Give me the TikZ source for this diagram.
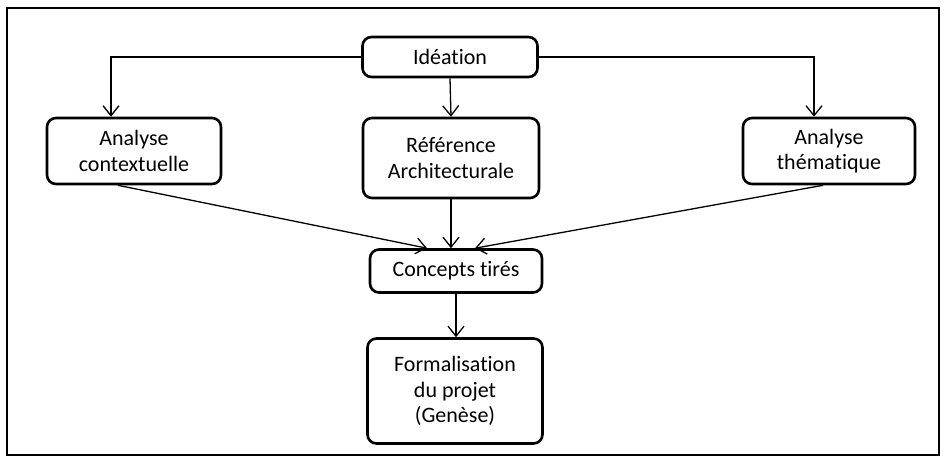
\documentclass[tikz,border=0pt]{standalone}
\usepackage{fontspec}
\setmainfont[Ligatures=NoCommon]{Carlito}
\usetikzlibrary{arrows.meta,positioning}
\tikzset{
    % rounded step boxes
    stepbox/.style={
        draw, line width=2.6pt, rounded corners=9pt, align=center,
        inner sep=0pt, font=\fontsize{22}{25.5}\selectfont
    },
    % arrows between the steps
    flowarc/.style={-{Straight Barb[length=10pt,width=16pt]}, line width=1.3pt},
    % outer frame
    framebox/.style={draw, line width=1.8pt},
}

\begin{document}
\begin{tikzpicture}[x=1pt,y=-1pt]
      \useasboundingbox (0,0) rectangle (946,464);
      \draw[framebox] (7,8) rectangle (939,455);
      % steps
      \node[stepbox, minimum width=175pt, minimum height=40pt] (ideation) at (450,57) {Idéation};
      \node[stepbox, minimum width=174pt, minimum height=66pt] (ctx) at (134,151) {Analyse\\contextuelle};
      \node[stepbox, minimum width=176pt, minimum height=80pt] (ref) at (451,158) {Référence\\Architecturale};
      \node[stepbox, minimum width=172pt, minimum height=66pt] (them) at (829,151) {Analyse\\thématique};
      \node[stepbox, minimum width=172pt, minimum height=43pt] (concepts) at (456,271) {Concepts tirés};
      \node[stepbox, minimum width=175pt, minimum height=105pt] (genese) at (455,391) {Formalisation\\du projet\\(Genèse)};
      % arrows
      \draw[flowarc] (ideation.west) -| ([xshift=-23pt]ctx.north);
      \draw[flowarc] (ideation.east) -| ([xshift=-15pt]them.north);
      \draw[flowarc] (ideation.south) -- (ref.north);
      \draw[flowarc] ([xshift=-16pt]ctx.south) -- ([xshift=-29pt]concepts.north);
      \draw[flowarc] (ref.south) -- (ref.south |- concepts.north);
      \draw[flowarc] ([xshift=-6pt]them.south) -- ([xshift=19pt]concepts.north);
      \draw[flowarc] (concepts.south) -- (concepts.south |- genese.north);
\end{tikzpicture}
\end{document}
